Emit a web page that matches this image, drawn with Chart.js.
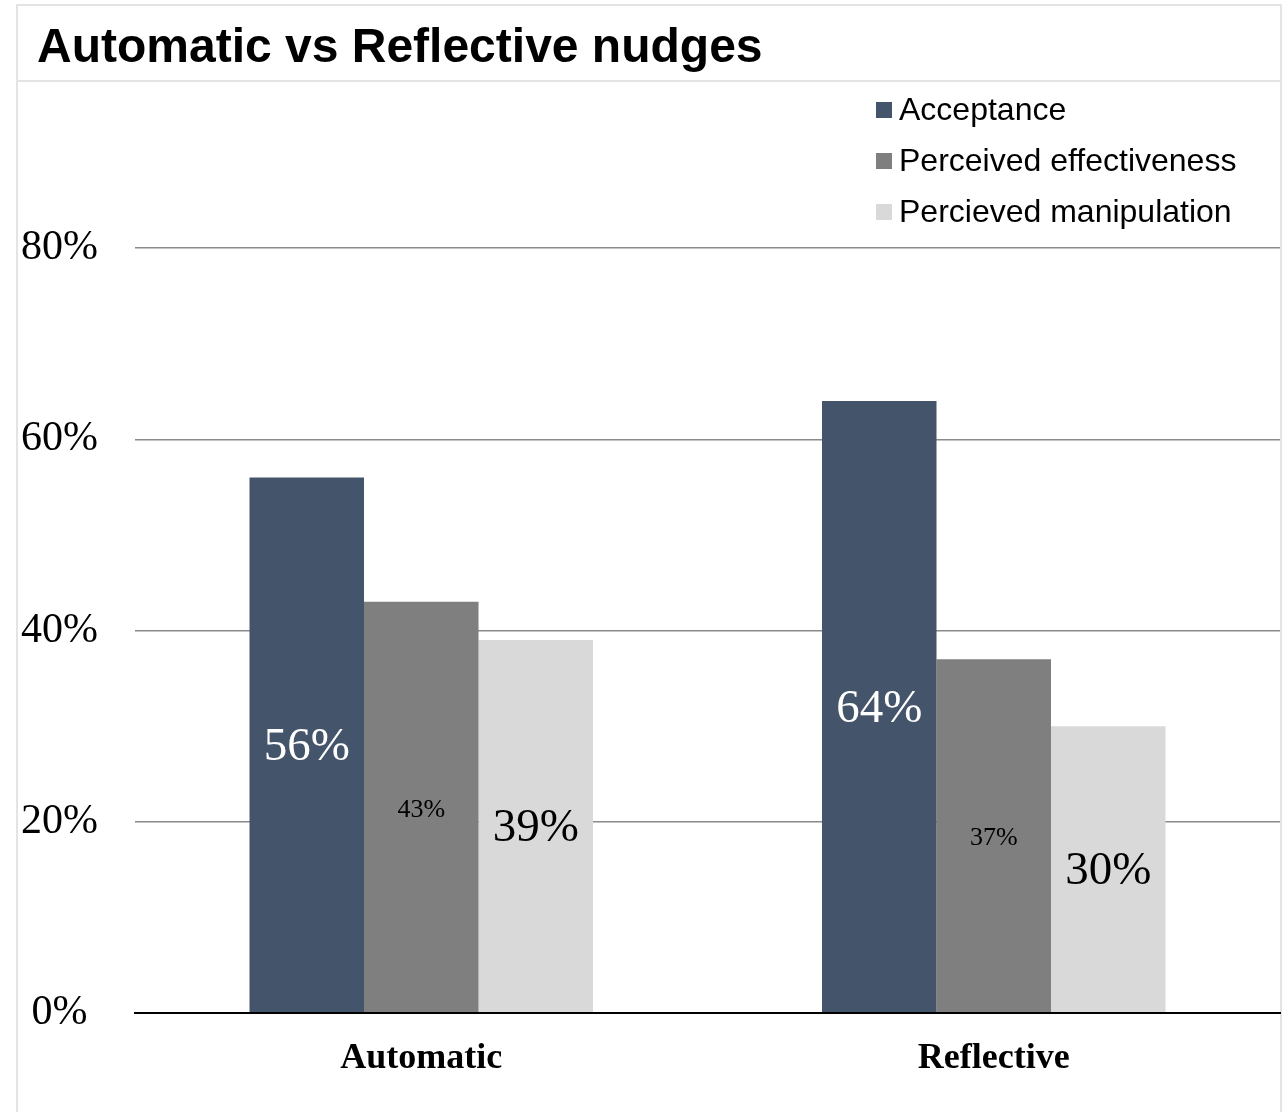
<!DOCTYPE html>
<html>
<head>
<meta charset="utf-8">
<title>Automatic vs Reflective nudges</title>
<script src="https://cdn.jsdelivr.net/npm/chart.js@4/dist/chart.umd.min.js"></script>
<style>
  html, body { margin: 0; padding: 0; background: #fff; }
  #wrap { position: absolute; left: 0; top: 0; width: 1286px; height: 1112px; }
</style>
</head>
<body>
<div id="wrap"><canvas id="myChart" width="1286" height="1112"></canvas></div>
<script>
  // chart data
  const categories = ['Automatic', 'Reflective'];
  const acceptance = [56, 64];
  const effectiveness = [43, 37];
  const manipulation = [39, 30];
  const seriesNames = ['Acceptance', 'Perceived effectiveness', 'Percieved manipulation'];
  const yTicks = [0, 20, 40, 60, 80];

  const colors = ['#44546a', '#7f7f7f', '#d9d9d9'];

  // outer frame + line under the title, title moved in from the edge
  const frame = {
    id: 'frame',
    afterLayout(chart) {
      chart.titleBlock.left = 37;
    },
    beforeDraw(chart) {
      const ctx = chart.ctx;
      ctx.save();
      ctx.strokeStyle = '#e4e4e4';
      ctx.lineWidth = 2;
      ctx.strokeRect(17, 5, 1264, 1120);
      ctx.beginPath();
      ctx.moveTo(17, 81);
      ctx.lineTo(1281, 81);
      ctx.stroke();
      ctx.restore();
    }
  };

  // value labels in the middle of each bar
  const barLabels = {
    id: 'barLabels',
    afterDatasetsDraw(chart) {
      const ctx = chart.ctx;
      const styles = [
        { size: 47, color: '#fff' },
        { size: 26, color: '#000' },
        { size: 47, color: '#000' }
      ];
      ctx.save();
      ctx.textAlign = 'center';
      ctx.textBaseline = 'middle';
      chart.data.datasets.forEach((ds, i) => {
        const meta = chart.getDatasetMeta(i);
        ctx.font = styles[i].size + 'px "Liberation Serif"';
        ctx.fillStyle = styles[i].color;
        meta.data.forEach((bar, j) => {
          const y = (bar.y + bar.base) / 2;
          ctx.fillText(Math.round(ds.data[j]) + '%', bar.x, y + 3);
        });
      });
      ctx.restore();
    }
  };

  // legend stacked in the top right corner
  const sideLegend = {
    id: 'sideLegend',
    afterDraw(chart) {
      const ctx = chart.ctx;
      ctx.save();
      ctx.font = '32px "Liberation Sans"';
      ctx.textBaseline = 'middle';
      chart.data.datasets.forEach((ds, i) => {
        const y = 110 + i * 51;
        ctx.fillStyle = ds.backgroundColor;
        ctx.fillRect(876, y - 8, 16, 16);
        ctx.fillStyle = '#000';
        ctx.fillText(ds.label, 899, y + 1);
      });
      ctx.restore();
    }
  };

  const data = {
    labels: categories,
    datasets: [
      { label: seriesNames[0], data: acceptance, backgroundColor: colors[0] },
      { label: seriesNames[1], data: effectiveness, backgroundColor: colors[1] },
      { label: seriesNames[2], data: manipulation, backgroundColor: colors[2] }
    ]
  };

  const config = {
    type: 'bar',
    data: data,
    options: {
      responsive: false,
      animation: false,
      layout: { padding: { left: 0, right: 6, top: 0, bottom: 0 } },
      datasets: {
        bar: { categoryPercentage: 0.6, barPercentage: 1.0 }
      },
      plugins: {
        legend: { display: false },
        tooltip: { enabled: false },
        title: {
          display: true,
          text: 'Automatic vs Reflective nudges',
          align: 'start',
          color: '#000',
          font: { family: '"Liberation Sans"', size: 48, weight: 'bold', lineHeight: 1.2 },
          padding: { top: 20, bottom: 17.4 }
        }
      },
      scales: {
        x: {
          afterFit: (axis) => { axis.height = 99; },
          grid: { display: false, drawTicks: false },
          border: { display: true, color: '#000', width: 2 },
          ticks: {
            color: '#000',
            padding: 24,
            font: { family: '"Liberation Serif"', size: 36, weight: 'bold' }
          }
        },
        y: {
          min: 0,
          max: 96,
          afterBuildTicks: (axis) => {
            axis.ticks = yTicks.map(v => ({ value: v }));
          },
          afterFit: (axis) => { axis.width = 135; },
          grid: {
            drawTicks: false,
            color: (c) => c.tick && c.tick.value === 0 ? '#000' : '#8a8a8a',
            lineWidth: (c) => c.tick && c.tick.value === 0 ? 2 : 1.5
          },
          border: { display: false },
          ticks: {
            color: '#000',
            padding: 37,
            crossAlign: 'center',
            font: { family: '"Liberation Serif"', size: 42 },
            callback: (v) => v + '%'
          }
        }
      }
    },
    plugins: [frame, barLabels, sideLegend]
  };

  const myChart = new Chart(document.getElementById('myChart'), config);
</script>
</body>
</html>
